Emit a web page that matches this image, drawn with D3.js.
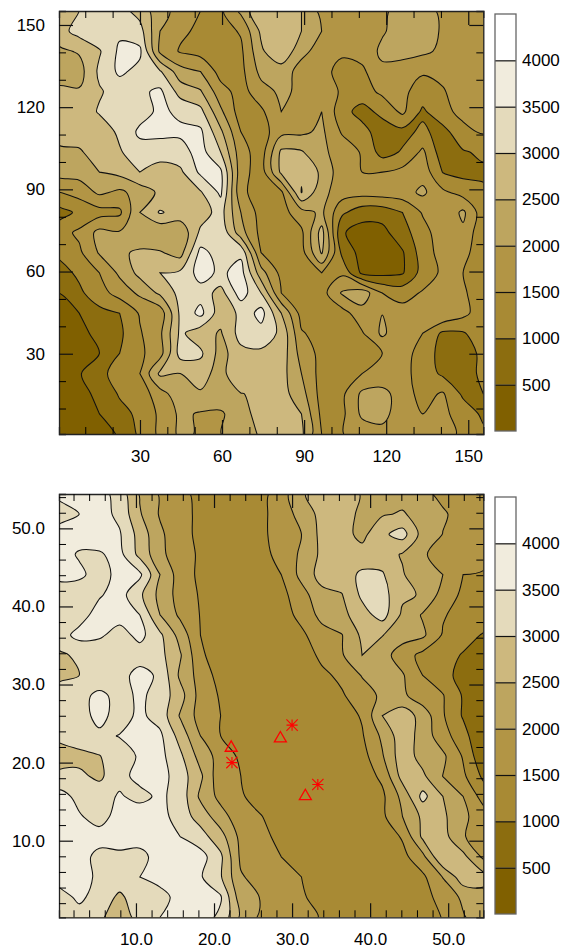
<!DOCTYPE html>
<html><head><meta charset="utf-8">
<script src="https://cdn.jsdelivr.net/npm/d3@7"></script>
<style>html,body{margin:0;background:#fff}svg{display:block}text{font-family:"Liberation Sans",Arial,sans-serif;fill:#000}</style>
</head><body><svg id="c" width="562" height="948"></svg>
<script>
// Elevation, in hundreds of metres, rows from north to south.
const terrainA = [
[27,30,33,32,28,22,18,15,14,21,30,30,25,18.5,18,19,19.5,21,21,19.5,18,17],
[28,32,34,34,32,20,16,14,13,15.5,26,29,25,20,18,18.5,19.5,22,22,19.5,18,17],
[24,25.5,29.5,36,36,19,14.5,13,12.5,14,24,30,21,18.5,15.5,17,21,22.5,21,19,18,17],
[21.5,23,31,36,33.5,30.5,22,20,13,13.5,21.5,22,18.5,16,14,14,19,16.5,15.5,16.5,17,17],
[26.5,25.5,29.5,32,34,36,28,25.5,17,13,18,21,19,19.5,14,13,16,16,13,14.5,18,17],
[26,27,30.5,31,33,36,34,31.5,21,12.5,14,20,19,20,12,8,11.5,16,9,14,16,17],
[27,27,27,31,36,36,36,36,26,15,12.5,18.5,19,21,14.5,12,7,8.5,11,8,14,15.5],
[24,24.5,27,29.5,33,33,33,37,30,17,12.5,26,25.5,21,18,14.5,8,10.5,16,7,9.5,11],
[22,22,25,26.5,30,27,29,36,36,17,12.5,26,29.5,24,17,15,15,16.5,18,9.8,8.5,9],
[15,17,21,19,22,26,29,29.5,36,16,13,14,30.2,21.5,17.5,17,17.5,18,21,16,13,11],
[8,11,13,14,25,30.5,28,27.5,32,20,13,13,18,21,11,7,7,10,15.5,16,21,12],
[13,16,21.5,20.5,20.5,20.5,21,31,34,22,13.5,12.5,14,27,5.5,3,3.5,8,13,18,19,11],
[11,14,20.5,24,26,25.5,23,36.5,33,34,15,12.5,13,25.5,9,3,3,4.5,12.5,17,17,11],
[8,11,15,21,26.5,30,31,37,34,37,22,13.5,13,15,14,4,3.5,4.5,12,16,15,12],
[5,9,13,17,21,26,31.5,33,28,37.5,30,15,12.5,13,20.5,23,15,13,15.5,19,16,11],
[4.9,5,8.5,10,15.5,17,31,36.5,27,31,37,25,13,12.5,13,18,19.9,17,15.5,20,16.5,12],
[3,4.5,5.5,9,14.5,19,31,27,24.5,32,33,29,15.5,13,13.5,14.5,21,16,15,9,9.5,13],
[2,3,5,10,14,18,32,31,23,28.5,29,28,18,13.5,13,14.5,15,17,13,8,8,11],
[1,4.5,9,11.5,15,26,25,27,23,30,27,27,20,13,13,15,15.5,16.5,13,9,8,11],
[1,3,6.5,10.5,12,18,23,24.5,24.5,24.8,26,27,22,13,13.9,21,22,17,13.5,15.5,9,10],
[1,2,5,8.5,11,16,21,19.5,19,24,26,27,25,13.8,13.8,21,22,16.5,15,16,13,9],
[1,1.5,3,5.5,11,16,21,19.5,19.9,23,25.5,26,26,15,14.8,17,18,17,16.5,16,14.5,11]
];
const terrainB = [
[36,37,37,33,24.5,19.5,16,14,13,13,13.5,17.5,24.5,27,26.5,24.8,24.9,23,21,19,18,17],
[33,35,37,33.8,25.5,19.5,16.5,14,13,13,14,17,22,26.5,27,24,24.5,25.5,23,20.5,18.5,17],
[37,37,37.5,35.5,28,21,16.5,14,13,13,14,17,20,26.5,27,23.5,29,32,23,19.9,17.5,17],
[37,34.5,34.5,36.5,28.5,21.5,16.5,14.5,13,13,14,16,21,26,27,27,27.5,24.5,20.3,19,17.5,17],
[36,36,33,36.5,36,25,17.5,14,13,13,13,15,21.5,27,27.5,31,30.5,25.5,21,20,15,14.5],
[33,32,34.5,37,31,23.5,18,14.5,12.5,12.5,12.5,13.5,18,23.5,24.8,31,32,26,24.5,18,14,13.5],
[33,33,37,37,35,25,19,14.8,12.5,12.5,12.5,12.7,16.5,21.5,23.5,28,32,24,19.5,15.5,13,13.5],
[33,36.5,35.8,33,36.5,31,23,15,12,12,12,12,14,18,19.8,26,25.2,22,21,14.5,12.5,9.5],
[29,31,31.5,34.5,32.5,31.5,25.5,16,12,12,12,12,12.5,16,19.5,25,22,17.5,13.5,12.5,9.5,8.5],
[28.5,30,30.5,33,37,34,24,18,13,12,12,12,12,14,16,20.3,22,20.5,15,12,8,8],
[33,33,36.5,33,36,33,27,18,14.5,12,12,12,12,12.5,14.5,17.5,21,21,17,15.3,9.5,8],
[33,33,36.5,33,36,33,24.5,18,15,12.5,12,12,12,12,12.5,15.5,25,28,23,15.5,9.5,8],
[31,33,34,35.2,36.5,36,28,20,15,12,12,12,12,12,12,14.5,21,28,23,17,12,5],
[28,28.5,29.8,33,35.5,36.5,31,23,18,14,12,12,12,12,12,13,19.5,28,23,21,14.5,6],
[31,31,29,33.5,36.5,37,32.5,26,16.5,15,12,12,12,12,12,12.5,16,27,26,19.9,16,9],
[37,33.5,33,35.5,33.5,36,33,24,18.5,15.5,13,12,12,12,12,12,14,21.5,31.5,25,20,13],
[36,35.5,33,37,38,37,32.5,28,22,17,15.2,12.5,12,12,12,12,14,20,26,26,21,17.5],
[36,37,37,37,37,37,35,32,27,18.5,16,14,12,12,12,12,12,15.5,26,27,20.3,18],
[37,37,33.5,34,33.5,37,37,37,31,19,16.5,15,13,12,12,12,12,13.5,18.5,30,26.5,19],
[37,37,34,33,35,37,37,35.5,30.5,20.5,18,17,15,13.7,12.8,12,12,12,14,20.2,28,27],
[33,36,33,29,33,33,37,37,35.5,22,19.8,17.5,15.5,13.5,13,12.5,12,12,13.5,16.5,21,23],
[32,33,31,27,32,35,37,37,34,24,19,19.8,16,14.8,13.5,13,12.5,12.5,13,15.2,19.5,23]
];
const levels = [500,1000,1500,2000,2500,3000,3500,4000];
const bandColors = ["#806000","#8c6d0f","#a88a34","#b29545","#bda55f","#cdb87e","#e4dabb","#f1ecdd","#ffffff"];
const majorA = [30,60,90,120,150];
const minorA = [10,20,40,50,70,80,100,110,130,140];
const majorB = [10,20,30,40,50];
const minorB = [2,4,6,8,12,14,16,18,22,24,26,28,32,34,36,38,42,44,46,48,52,54];
const triangleX = [22.2,28.5,31.7], triangleY = [21.9,23.1,15.7];
const asteriskX = [30.0,22.3,33.3], asteriskY = [24.8,20.0,17.2];

const svg = d3.select("#c");
const plotX = [59,483.3];

function panel(id, grid, top, bottom, xDom, yDom, major, minor, fmt, barTop, barBottom){
  const x = d3.scaleLinear().domain(xDom).range(plotX);
  const y = d3.scaleLinear().domain(yDom).range([bottom,top]);
  const g = svg.append("g");
  const clip = "clip"+id;
  svg.append("clipPath").attr("id",clip).append("rect")
    .attr("x",plotX[0]).attr("y",top).attr("width",plotX[1]-plotX[0]).attr("height",bottom-top);
  const plot = g.append("g").attr("clip-path",`url(#${clip})`);
  plot.append("rect").attr("x",plotX[0]).attr("y",top).attr("width",plotX[1]-plotX[0]).attr("height",bottom-top).attr("fill",bandColors[0]);

  const rows = grid.length, cols = grid[0].length;
  const gx = d3.scaleLinear().domain([0,cols-1]).range(xDom);
  const gy = d3.scaleLinear().domain([0,rows-1]).range([yDom[1],yDom[0]]);
  const line = d3.line().curve(d3.curveCatmullRomClosed.alpha(0.5));
  const ringPath = ring => line(ring.slice(0,-1).map(p=>[x(gx(p[0]-0.5)),y(gy(p[1]-0.5))]));
  const contours = d3.contours().size([cols,rows]).smooth(true).thresholds(levels)(grid.flat().map(v=>v*100));
  contours.forEach((c,i)=>{
    const d = c.coordinates.map(poly=>poly.map(ringPath).join("")).join("");
    plot.append("path").attr("d",d).attr("fill",bandColors[i+1]).attr("fill-rule","evenodd")
      .attr("stroke","#111").attr("stroke-width",1.05);
  });

  // inward ticks on all four sides
  const sides = [
    [d3.axisBottom(x),0,bottom,true],[d3.axisTop(x),0,top,false],
    [d3.axisLeft(y),plotX[0],0,true],[d3.axisRight(y),plotX[1],0,false]];
  sides.forEach(([ax,tx,ty,labelled])=>{
    const vertical = ax===sides[2][0]||ax===sides[3][0];
    ax.tickValues(minor).tickSize(-7).tickFormat("");
    const a = g.append("g").attr("transform",`translate(${tx},${ty})`).call(ax);
    a.select(".domain").attr("stroke","#222").attr("stroke-width",1.3);
    ax.tickValues(major).tickSize(-14).tickPadding(vertical?14:16).tickFormat(labelled?fmt:"");
    const b = g.append("g").attr("transform",`translate(${tx},${ty})`).call(ax);
    b.select(".domain").remove();
    b.selectAll("line").attr("stroke","#111").attr("stroke-width",1.2);
    b.selectAll("text").attr("font-size",17).attr("font-family","Liberation Sans");
  });

  // colour bar
  const barX = 495, barW = 21;
  const bar = d3.scaleLinear().domain([0,4500]).range([barBottom,barTop]);
  const edges = [0,...levels,4500];
  g.append("g").selectAll("rect").data(bandColors).join("rect")
    .attr("x",barX).attr("width",barW)
    .attr("y",(d,i)=>bar(edges[i+1])).attr("height",(d,i)=>bar(edges[i])-bar(edges[i+1]))
    .attr("fill",d=>d);
  const cb = g.append("g").attr("transform",`translate(${barX},0)`)
    .call(d3.axisRight(bar).tickValues(levels).tickSize(barW).tickPadding(6).tickFormat(d3.format("d")));
  cb.select(".domain").remove();
  cb.selectAll("line").attr("stroke","#111").attr("stroke-width",1.2);
  cb.selectAll("text").attr("font-size",17).attr("font-family","Liberation Sans");
  g.append("rect").attr("x",barX).attr("y",barTop).attr("width",barW).attr("height",barBottom-barTop)
    .attr("fill","none").attr("stroke","#666").attr("stroke-width",1.3);
  return {x,y,g};
}

panel("A", terrainA, 11, 434, [0.4,155.5], [0.7,155.1], majorA, minorA, d3.format("d"), 14, 431);
const b = panel("B", terrainB, 494, 917.3, [0.14,54.5], [0.19,54.4], majorB, minorB, d3.format(".1f"), 497, 914);

const tri = d3.symbol().type(d3.symbolTriangle).size(62)();
const ast = d3.symbol().type(d3.symbolTimes).size(85)() + d3.symbol().type(d3.symbolPlus).size(42)();
b.g.append("g").selectAll("path").data(triangleX.map((v,i)=>[v,triangleY[i]])).join("path")
  .attr("d",tri).attr("transform",d=>`translate(${b.x(d[0])},${b.y(d[1])})`)
  .attr("fill","none").attr("stroke","#f00").attr("stroke-width",1.3);
b.g.append("g").selectAll("path").data(asteriskX.map((v,i)=>[v,asteriskY[i]])).join("path")
  .attr("d",ast).attr("transform",d=>`translate(${b.x(d[0])},${b.y(d[1])})`)
  .attr("fill","none").attr("stroke","#f00").attr("stroke-width",1.1);
</script></body></html>
